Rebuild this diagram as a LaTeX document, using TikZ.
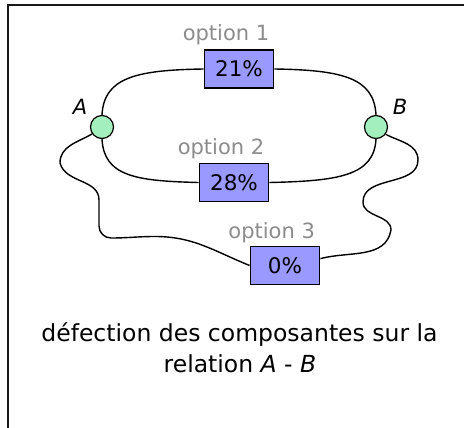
\documentclass[tikz,border=0pt]{standalone}
\usepackage{fontspec}
\setmainfont{DejaVu Sans}
\usetikzlibrary{backgrounds}
\definecolor{nodegreen}{RGB}{163,240,190}
\definecolor{boxblue}{RGB}{153,153,255}
\definecolor{labelgray}{RGB}{140,140,140}
\begin{document}
\begin{tikzpicture}[x=1pt,y=1pt,
  frame/.style={draw=black!90, line width=2pt},
  vertex/.style={circle, draw=black, line width=1.2pt, fill=nodegreen, minimum size=23pt, inner sep=0pt},
  pct/.style={draw=black, line width=1.3pt, fill=boxblue, minimum width=69.5pt, minimum height=38pt, inner sep=0pt, font=\fontsize{21.5}{24}\selectfont},
  optlabel/.style={text=labelgray, font=\fontsize{21}{25}\selectfont, anchor=base, inner sep=0pt},
  vlabel/.style={font=\fontsize{21}{24}\selectfont\itshape, anchor=base, inner sep=0pt},
  caption/.style={font=\fontsize{23.5}{30}\selectfont, anchor=base, inner sep=0pt},
  link/.style={draw=black, line width=1.4pt}]
\useasboundingbox (0,0) rectangle (464,-428);

\node[vertex] (A) at (102,-127) {};
\node[vertex] (B) at (376,-127) {};
\node[pct] (p1) at (239,-69) {21\%};
\node[pct] (p2) at (234,-182.5) {28\%};
\node[pct] (p3) at (285,-265.5) {0\%};

\node[vlabel] (la) at (80,-115) {A};
\node[vlabel] (lb) at (400,-115) {B};
\node[optlabel] (o1) at (226,-40.7) {option 1};
\node[optlabel] (o2) at (221,-154) {option 2};
\node[optlabel] (o3) at (271.7,-238) {option 3};
\node[caption] (c1) at (239.5,-341) {défection des composantes sur la};
\node[caption] (c2) at (240,-372.7) {relation \textit{A} - \textit{B}};

\begin{scope}[on background layer]
\clip (0,0) rectangle (464,-428);
\draw[frame] (8,-5) rectangle (490,-460);
\draw[link] (A.north) .. controls (104,-78) and (135,-70) .. (p1.west);
\draw[link] (p1.east) .. controls (343,-70) and (374,-78) .. (B.north);
\draw[link] (A.south) .. controls (104,-176) and (135,-181) .. (p2.west);
\draw[link] (p2.east) .. controls (338,-181) and (374,-176) .. (B.south);
\draw[link] (A.215) to[out=210,in=90] (60,-163) to[out=-75,in=90] (99,-200) -- (99,-226)
  to[out=-90,in=180] (111,-238) to[out=0,in=180] (155,-236.5) to[out=0,in=158] (p3.west);
\draw[link] (p3.11) to[out=15,in=-100] (391,-230) to[out=90,in=-90] (363,-202)
  to[out=90,in=-90] (418,-160) to[out=90,in=-28] (B.-37);
\end{scope}
\end{tikzpicture}
\end{document}
